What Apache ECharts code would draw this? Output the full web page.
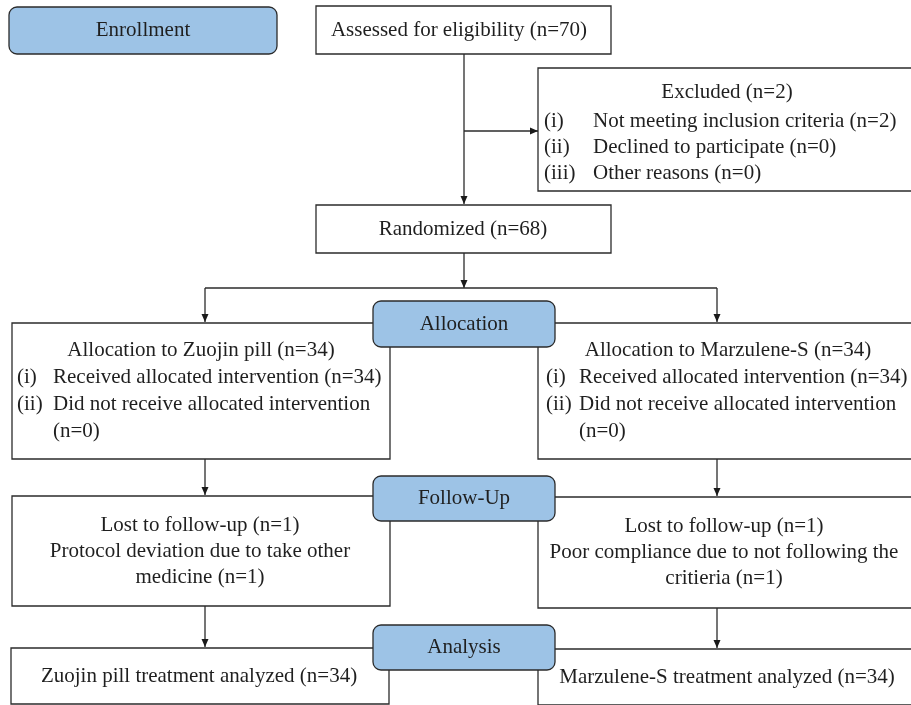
<!DOCTYPE html>
<html>
<head>
<meta charset="utf-8">
<script src="https://cdn.jsdelivr.net/npm/echarts@6/dist/echarts.min.js"></script>
<style>
html, body { margin: 0; padding: 0; background: #fff; }
#chart { width: 911px; height: 705px; }
</style>
</head>
<body>
<div id="chart"></div>
<script>
// stage names (blue tabs)
var stages = ['Enrollment', 'Allocation', 'Follow-Up', 'Analysis'];

// box texts; a pair is [marker, text], '' marker = continuation line
var assessedText = ['Assessed for eligibility (n=70)'];
var excludedText = ['Excluded (n=2)',
  ['(i)', 'Not meeting inclusion criteria (n=2)'],
  ['(ii)', 'Declined to participate (n=0)'],
  ['(iii)', 'Other reasons (n=0)']];
var randomizedText = ['Randomized (n=68)'];
var allocZuojin = ['Allocation to Zuojin pill (n=34)',
  ['(i)', 'Received allocated intervention (n=34)'],
  ['(ii)', 'Did not receive allocated intervention'],
  ['', '(n=0)']];
var allocMarzulene = ['Allocation to Marzulene-S (n=34)',
  ['(i)', 'Received allocated intervention (n=34)'],
  ['(ii)', 'Did not receive allocated intervention'],
  ['', '(n=0)']];
var followZuojin = ['Lost to follow-up (n=1)', 'Protocol deviation due to take other', 'medicine (n=1)'];
var followMarzulene = ['Lost to follow-up (n=1)', 'Poor compliance due to not following the', 'critieria (n=1)'];
var analysisZuojin = ['Zuojin pill treatment analyzed (n=34)'];
var analysisMarzulene = ['Marzulene-S treatment analyzed (n=34)'];

// layout (diagram units = pixels of the 911x705 canvas)
var boxes = [
  { r: [316, 6, 611, 54], cx: 459, lines: assessedText },
  { r: [538, 68, 930, 191], cx: 727, mk: 6, bd: 55, lh: 26, first: 32, dy: 1.5, lines: excludedText },
  { r: [316, 205, 611, 253], cx: 463, lines: randomizedText },
  { r: [12, 323, 390, 459], cx: 201, mk: 5, bd: 41, lh: 27, lines: allocZuojin },
  { r: [538, 323, 930, 459], cx: 728, mk: 8, bd: 41, lh: 27, lines: allocMarzulene },
  { r: [12, 496, 390, 606], cx: 200, lh: 26, lines: followZuojin },
  { r: [538, 497, 930, 608], cx: 724, lh: 26, lines: followMarzulene },
  { r: [11, 648, 389, 704], cx: 199, lines: analysisZuojin },
  { r: [538, 649, 930, 705], cx: 727, lines: analysisMarzulene }
];
var tabs = [[9, 7, 277, 54], [373, 301, 555, 347], [373, 476, 555, 521], [373, 625, 555, 670]];

var links = [
  { p: [[464, 54], [464, 204]], arrow: true },
  { p: [[464, 131], [538, 131]], arrow: true },
  { p: [[464, 253], [464, 288]], arrow: true },
  { p: [[205, 288], [717, 288]], arrow: false },
  { p: [[205, 288], [205, 322]], arrow: true },
  { p: [[717, 288], [717, 322]], arrow: true },
  { p: [[205, 459], [205, 495]], arrow: true },
  { p: [[717, 459], [717, 496]], arrow: true },
  { p: [[205, 606], [205, 647]], arrow: true },
  { p: [[717, 608], [717, 648]], arrow: true }
];

var FONT = '"Liberation Serif", "Times New Roman", serif';
var FS = 21;
var INK = '#1f1f1f';

function textEl(x, y, s, align) {
  return { type: 'text', x: x, y: y,
    style: { text: s, fill: INK, font: FS + 'px ' + FONT, textAlign: align, textVerticalAlign: 'middle' } };
}

function renderBox(params, api) {
  var b = boxes[params.dataIndex];
  var p0 = api.coord([b.r[0], b.r[1]]);
  var p1 = api.coord([b.r[2], b.r[3]]);
  var kids = [{ type: 'rect',
    shape: { x: p0[0], y: p0[1], width: p1[0] - p0[0], height: p1[1] - p0[1] },
    style: { fill: '#fff', stroke: '#2b2b2b', lineWidth: 1.3 } }];
  var lh = b.lh || 26, first = b.first || lh;
  var total = first + lh * (b.lines.length - 1);
  var y = (p0[1] + p1[1]) / 2 - total / 2 + (b.dy || 0);
  var cx = api.coord([b.cx, 0])[0];
  b.lines.forEach(function (ln, i) {
    var h = i === 0 ? first : lh;
    var yc = y + h / 2;
    if (typeof ln === 'string') {
      kids.push(textEl(cx, yc, ln, 'center'));
    } else {
      if (ln[0]) kids.push(textEl(p0[0] + b.mk, yc, ln[0], 'left'));
      kids.push(textEl(p0[0] + b.bd, yc, ln[1], 'left'));
    }
    y += h;
  });
  return { type: 'group', children: kids };
}

function renderTab(params, api) {
  var t = tabs[params.dataIndex];
  var p0 = api.coord([t[0], t[1]]);
  var p1 = api.coord([t[2], t[3]]);
  return { type: 'group', children: [
    { type: 'rect', shape: { x: p0[0], y: p0[1], width: p1[0] - p0[0], height: p1[1] - p0[1], r: 8 },
      style: { fill: '#9dc3e6', stroke: '#2b2b2b', lineWidth: 1.3 } },
    textEl((p0[0] + p1[0]) / 2, (p0[1] + p1[1]) / 2, stages[params.dataIndex], 'center')
  ] };
}

function renderLink(params, api) {
  var l = links[params.dataIndex];
  var pts = l.p.map(function (q) { return api.coord(q); });
  var kids = [{ type: 'polyline', shape: { points: pts },
    style: { stroke: '#2b2b2b', lineWidth: 1.3, fill: null } }];
  if (l.arrow) {
    var a = pts[pts.length - 2], e = pts[pts.length - 1];
    var dx = e[0] - a[0], dy = e[1] - a[1], len = Math.sqrt(dx * dx + dy * dy);
    var ux = dx / len, uy = dy / len, L = 8, W = 3.5;
    var bx = e[0] - ux * L, by = e[1] - uy * L;
    kids.push({ type: 'polygon',
      shape: { points: [[e[0], e[1]], [bx - uy * W, by + ux * W], [bx + uy * W, by - ux * W]] },
      style: { fill: '#1a1a1a' } });
  }
  return { type: 'group', children: kids };
}

var chart = echarts.init(document.getElementById('chart'));
chart.setOption({
  animation: false,
  grid: { left: 0, right: 0, top: 0, bottom: 0 },
  xAxis: { type: 'value', min: 0, max: 911, show: false },
  yAxis: { type: 'value', min: 0, max: 705, inverse: true, show: false },
  series: [
    { type: 'custom', clip: false, renderItem: renderBox,
      data: boxes.map(function (b) { return [b.r[0], b.r[1]]; }) },
    { type: 'custom', clip: false, renderItem: renderLink,
      data: links.map(function (l) { return l.p[0]; }) },
    { type: 'custom', clip: false, renderItem: renderTab,
      data: tabs.map(function (t) { return [t[0], t[1]]; }) }
  ]
});
</script>
</body>
</html>
